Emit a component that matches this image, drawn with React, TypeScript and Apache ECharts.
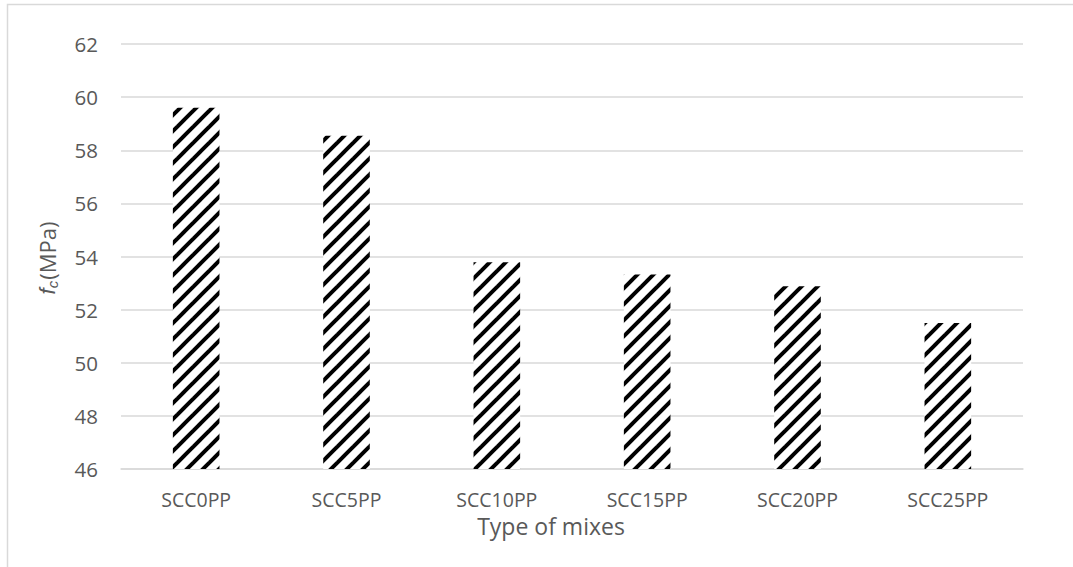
import React, { useEffect, useRef } from "react";
import * as echarts from "echarts";

const categories = ["SCC0PP", "SCC5PP", "SCC10PP", "SCC15PP", "SCC20PP", "SCC25PP"];
const values = [59.6, 58.55, 53.78, 53.32, 52.88, 51.5];
const yMin = 46;
const yMax = 62;
const yStep = 2;
const xTitle = "Type of mixes";

function makeStripe(): HTMLCanvasElement {
  const s = 16;
  const c = document.createElement("canvas");
  c.width = s;
  c.height = s;
  const ctx = c.getContext("2d")!;
  ctx.fillStyle = "#ffffff";
  ctx.fillRect(0, 0, s, s);
  ctx.strokeStyle = "#000000";
  ctx.lineWidth = 4;
  for (const k of [-s, 0, s, 2 * s]) {
    ctx.beginPath();
    ctx.moveTo(k - s, s + s);
    ctx.lineTo(k + s + s, -s);
    ctx.stroke();
  }
  return c;
}

export default function App() {
  const ref = useRef<HTMLDivElement>(null);
  useEffect(() => {
    if (!ref.current) return;
    const chart = echarts.init(ref.current, null, { renderer: "svg" });
    const font = "'Open Sans', 'Liberation Sans', sans-serif";
    const ital = "'Liberation Sans', sans-serif";
    chart.setOption({
      animation: false,
      backgroundColor: "#ffffff",
      textStyle: { fontFamily: font },
      grid: { left: 121, right: 50, top: 44, bottom: 98, containLabel: false },
      xAxis: {
        type: "category",
        data: categories,
        axisLine: { show: true, lineStyle: { color: "#d9d9d9", width: 1.5 } },
        axisTick: { show: false },
        axisLabel: { color: "#595959", fontSize: 19.5, margin: 20, fontFamily: font },
      },
      yAxis: {
        type: "value",
        min: yMin,
        max: yMax,
        interval: yStep,
        axisLine: { show: false },
        axisTick: { show: false },
        splitLine: { lineStyle: { color: "#d9d9d9", width: 1.5 } },
        axisLabel: { color: "#595959", fontSize: 20.5, margin: 23, fontFamily: font },
      },
      series: [
        {
          type: "bar",
          data: values,
          barWidth: "31%",
          itemStyle: {
            color: { image: makeStripe(), repeat: "repeat" },
          },
        },
      ],
      graphic: [
        {
          type: "rect",
          silent: true,
          shape: { x: 7.5, y: 4.5, width: 1300, height: 800 },
          style: { fill: "none", stroke: "#d9d9d9", lineWidth: 1.5 },
        },
        {
          type: "text",
          x: 551,
          y: 526,
          style: {
            text: xTitle,
            fill: "#595959",
            font: `23px ${font}`,
            align: "center",
            verticalAlign: "middle",
          },
        },
        {
          type: "text",
          x: 47,
          y: 258,
          rotation: Math.PI / 2,
          style: {
            text: "{f|f}{c|c}{n|(MPa)}",
            align: "center",
            verticalAlign: "middle",
            fill: "#595959",
            rich: {
              f: { fontSize: 22, fontStyle: "italic", fill: "#595959", fontFamily: ital },
              c: {
                fontSize: 15,
                fontStyle: "italic",
                fill: "#595959",
                fontFamily: ital,
                verticalAlign: "bottom",
                padding: [10, 1, 0, 0],
              },
              n: { fontSize: 22, fill: "#595959", fontFamily: font },
            },
          },
        },
      ],
    });
    return () => chart.dispose();
  }, []);
  return (
    <div
      ref={ref}
      style={{ position: "fixed", left: 0, top: 0, width: 1073, height: 567 }}
    />
  );
}
